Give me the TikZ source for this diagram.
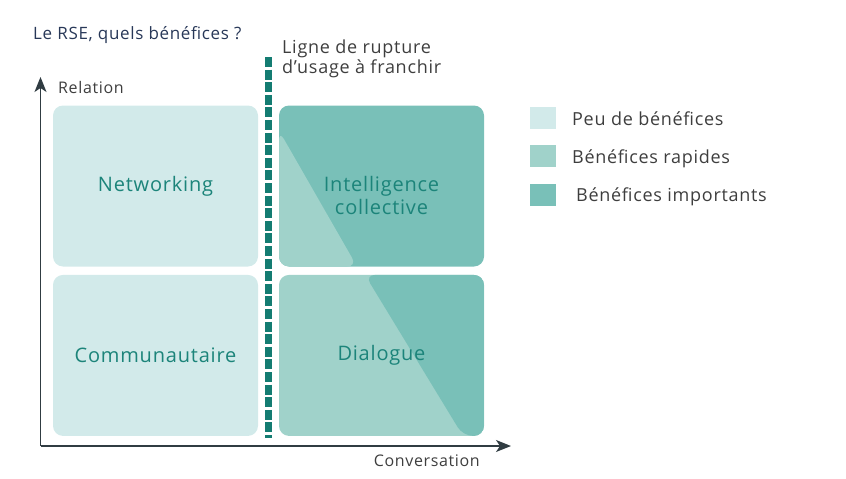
\documentclass[tikz,border=0pt]{standalone}
\usepackage{fontspec}
\setmainfont{Open Sans}[LetterSpace=4]
\usetikzlibrary{positioning,arrows.meta}
\definecolor{rseteal}{RGB}{28,132,122}
\definecolor{rsedash}{RGB}{20,124,114}
\definecolor{bandPeu}{RGB}{210,234,234}
\definecolor{bandRap}{RGB}{160,210,202}
\definecolor{bandImp}{RGB}{121,192,184}
\definecolor{rseaxis}{RGB}{48,60,66}
\definecolor{rsetitle}{RGB}{40,56,88}
\definecolor{rsetext}{RGB}{62,62,62}
\tikzset{
  quadrant/.style={rounded corners=10pt,minimum width=205pt,minimum height=161pt,
    inner sep=0pt,text=rseteal,font=\fontsize{20}{23}\selectfont,align=center},
  quadtext/.style={text=rseteal,font=\fontsize{20}{23}\selectfont,align=center,inner sep=0pt},
  legendbox/.style={minimum width=26pt,minimum height=22pt,inner sep=0pt},
  legendtext/.style={anchor=base west,text=rsetext,font=\fontsize{18}{20}\selectfont,inner sep=0pt},
  axislabel/.style={text=rsetext,font=\fontsize{16}{18}\selectfont,inner sep=0pt},
  axis/.style={rseaxis,line width=1.5pt,-{Stealth[length=15pt,width=12pt,inset=4pt]}},
  rupture/.style={rsedash,line width=7pt,dash pattern=on 10pt off 2.6pt}
}
\begin{document}
\begin{tikzpicture}[x=1pt,y=-1pt]
  \useasboundingbox (0,0) rectangle (846,479);
  \node[anchor=base west,text=rsetitle,font=\fontsize{17}{20}\selectfont,inner sep=0pt]
        (title) at (33,39) {Le RSE, quels bénéfices ?};
  \coordinate (origin) at (40.5,446);
  \coordinate (ytop) at (40.5,77);
  \coordinate (xend) at (511,446);
  \draw[axis] (origin) -- (ytop);
  \draw[axis] (origin) -- (xend);
  \node[axislabel,anchor=base west] (relation) at (58,93) {Relation};
  \node[axislabel,anchor=base east] (conversation) at (480,466) {Conversation};
  \node[quadrant,fill=bandPeu] (network) at (155.5,186) {Networking};
  \node[quadrant,fill=bandPeu,below=8pt of network] (commu) {Communautaire};
  \node[quadrant,fill=bandImp,path picture={
      \fill[bandRap] ([yshift=-25pt]path picture bounding box.north west)
        -- (path picture bounding box.south west) -- ([xshift=78pt]path picture bounding box.south west) -- cycle;}]
        (intel) at (381.5,186) {};
  \node[quadtext] (intel text) at ([yshift=-9pt]intel.center) {Intelligence\\collective};
  \node[quadrant,fill=bandRap,below=8pt of intel,path picture={
      \fill[bandImp] ([xshift=86pt]path picture bounding box.north west)
        -- (path picture bounding box.north east) -- (path picture bounding box.south east)
        -- ([xshift=-21pt]path picture bounding box.south east) -- cycle;}]
        (dialogue) {Dialogue};
  \coordinate (rup top) at (268,57);
  \coordinate (rup bottom) at (268,438);
  \draw[rupture] (rup top) -- (rup bottom);
  \node[anchor=base west,text=rsetext,font=\fontsize{18}{20}\selectfont,align=left,inner sep=0pt]
        (ligne) at (282,73) {Ligne de rupture\\d’usage à franchir};
  \node[legendbox,fill=bandPeu] (leg peu) at (543,118) {};
  \node[legendbox,fill=bandRap] (leg rap) at (543,156) {};
  \node[legendbox,fill=bandImp] (leg imp) at (543,195) {};
  \node[legendtext] (txt peu) at (572,125) {Peu de bénéfices};
  \node[legendtext] (txt rap) at (572,163) {Bénéfices rapides};
  \node[legendtext] (txt imp) at (576,201) {Bénéfices importants};
\end{tikzpicture}
\end{document}
